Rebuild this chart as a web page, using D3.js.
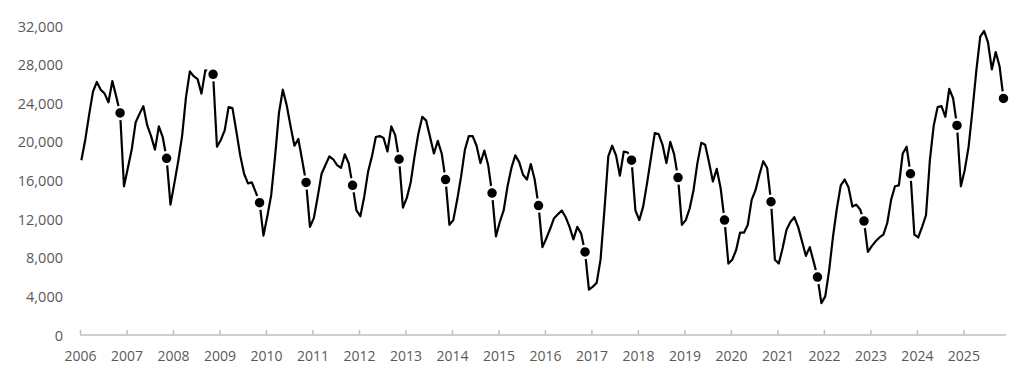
<!DOCTYPE html>
<html>
<head>
<meta charset="utf-8">
<script src="https://cdn.jsdelivr.net/npm/d3@7"></script>
<style>
  html, body { margin: 0; padding: 0; background: #fff; }
  svg text { font-family: "Open Sans", "Liberation Sans", sans-serif; }
</style>
</head>
<body>
<svg id="chart" width="1024" height="377"></svg>
<script>
// Monthly series, January 2006 onward (one value per month)
const startYear = 2006;
const values = [
  // 2006
  18100, 20200, 22800, 25200, 26200, 25400, 25000, 24100, 26300, 24700, 23000, 15400,
  // 2007
  17300, 19200, 22000, 22900, 23700, 21700, 20600, 19200, 21600, 20500, 18300, 13500,
  // 2008
  15700, 18000, 20600, 24600, 27300, 26800, 26500, 25000, 27400, 27300, 27000, 19500,
  // 2009
  20200, 21200, 23600, 23500, 21100, 18600, 16700, 15700, 15800, 14800, 13700, 10300,
  // 2010
  12300, 14500, 18500, 23000, 25400, 23800, 21600, 19600, 20300, 18100, 15800, 11200,
  // 2011
  12100, 14300, 16700, 17600, 18500, 18200, 17600, 17300, 18700, 17800, 15500, 12900,
  // 2012
  12300, 14300, 16900, 18500, 20500, 20600, 20400, 19000, 21600, 20700, 18200, 13200,
  // 2013
  14200, 15800, 18500, 20900, 22600, 22200, 20500, 18800, 20100, 18800, 16100, 11400,
  // 2014
  11900, 14000, 16400, 19200, 20600, 20600, 19600, 17800, 19100, 17600, 14700, 10200,
  // 2015
  11700, 12900, 15400, 17300, 18600, 17900, 16600, 16100, 17700, 16100, 13400, 9100,
  // 2016
  10000, 11000, 12100, 12500, 12900, 12200, 11200, 9900, 11200, 10500, 8600, 4700,
  // 2017
  5000, 5400, 7800, 12900, 18500, 19600, 18600, 16500, 19000, 18900, 18100, 12900,
  // 2018
  11900, 13300, 15700, 18300, 20900, 20800, 19700, 17800, 20000, 18700, 16300, 11400,
  // 2019
  11900, 13100, 15000, 17800, 19900, 19700, 17900, 15900, 17200, 15200, 11900, 7400,
  // 2020
  7800, 8800, 10600, 10600, 11400, 14000, 15000, 16600, 18000, 17300, 13800, 7800,
  // 2021
  7400, 9000, 10900, 11700, 12200, 11200, 9700, 8200, 9100, 7600, 6000, 3300,
  // 2022
  4000, 6700, 10200, 13100, 15500, 16100, 15300, 13300, 13500, 13000, 11800, 8600,
  // 2023
  9200, 9700, 10100, 10400, 11600, 14000, 15400, 15500, 18800, 19500, 16700, 10400,
  // 2024
  10100, 11200, 12400, 18100, 21700, 23600, 23700, 22600, 25500, 24500, 21700, 15400,
  // 2025
  17100, 19500, 23300, 27400, 30900, 31500, 30300, 27500, 29300, 27800, 24500
];
const markerMonth = 10; // November of each year is highlighted
const yearTicks = d3.range(2006, 2026);
const valueTicks = d3.range(0, 32001, 4000);

const svg = d3.select("#chart");

const x = d3.scaleLinear().domain([2006, 2025 + 11 / 12]).range([80, 1006]);
const y = d3.scaleLinear().domain([0, 32000]).range([335, 26]);

const data = values.map((v, i) => ({
  t: startYear + Math.floor(i / 12) + ((i % 12) + 0.35) / 12,
  month: i % 12,
  v
}));

// Y tick labels (no axis line, no gridlines)
const yAxis = d3.axisLeft(y).tickValues(valueTicks).tickSize(0).tickPadding(0)
  .tickFormat(d3.format(","));
const gy = svg.append("g").attr("transform", "translate(63,0)").call(yAxis);
gy.select(".domain").remove();
gy.selectAll("text").attr("fill", "#595959").style("font-size", "14.5px").attr("dy", "0.35em");

// X axis
const xAxis = d3.axisBottom(x).tickValues(yearTicks).tickSize(-5).tickPadding(16)
  .tickFormat(d3.format("d"));
const gx = svg.append("g").attr("transform", "translate(0,335)").call(xAxis);
gx.select(".domain").attr("stroke", "#bfbfbf").attr("stroke-width", 1.5)
  .attr("d", `M${x.range()[0]},0H${x.range()[1]}`);
gx.selectAll(".tick line").attr("stroke", "#bfbfbf").attr("stroke-width", 1.5);
gx.selectAll("text").attr("fill", "#595959").style("font-size", "14px");

// Line
const line = d3.line().x(d => x(d.t)).y(d => y(d.v));
svg.append("path").datum(data)
  .attr("fill", "none").attr("stroke", "#000").attr("stroke-width", 2.2)
  .attr("stroke-linejoin", "round")
  .attr("d", line);

// Markers
svg.append("g").selectAll("circle")
  .data(data.filter(d => d.month === markerMonth))
  .join("circle")
  .attr("cx", d => x(d.t)).attr("cy", d => y(d.v)).attr("r", 6)
  .attr("fill", "#000").attr("stroke", "#fff").attr("stroke-width", 2.5);
</script>
</body>
</html>
